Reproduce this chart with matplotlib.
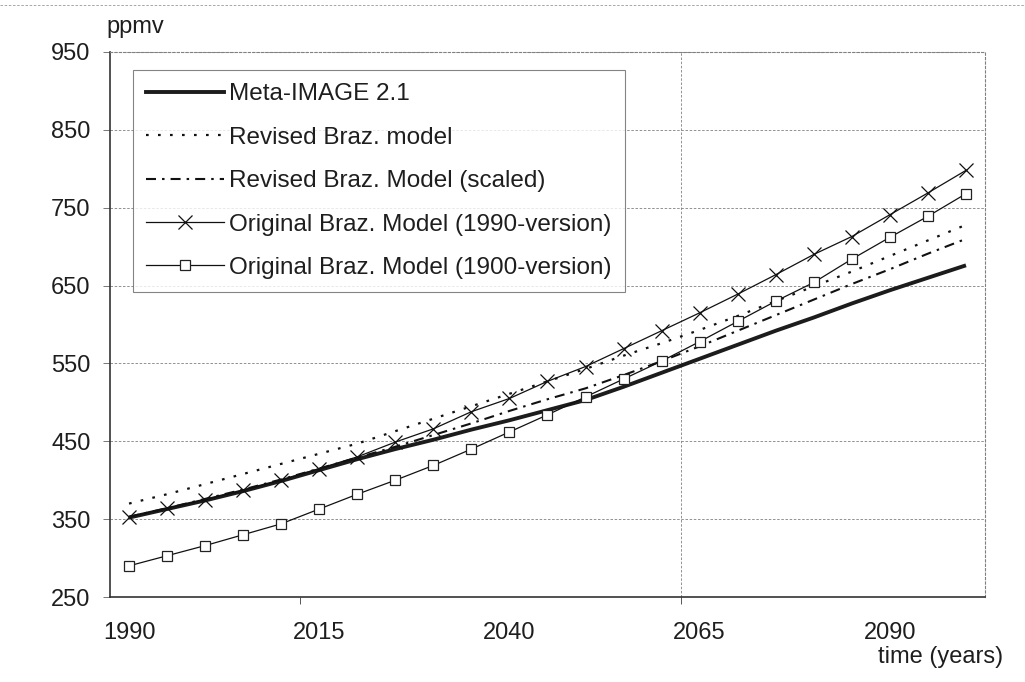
import matplotlib
matplotlib.use("Agg")
import matplotlib.pyplot as plt
from matplotlib.lines import Line2D

# ---- data ----
years = [1990, 1995, 2000, 2005, 2010, 2015, 2020, 2025, 2030, 2035, 2040, 2045,
         2050, 2055, 2060, 2065, 2070, 2075, 2080, 2085, 2090, 2095, 2100]
meta_image = [352, 363, 374, 386, 399, 413, 427, 440, 452, 465, 477, 490,
              503, 520, 538, 556, 574, 592, 609, 627, 644, 660, 676]
revised_braz = [370, 382, 395, 408, 421, 434, 447, 463, 479, 495, 511, 527,
                543, 560, 576, 593, 611, 630, 649, 668, 688, 708, 728]
revised_scaled = [353, 364, 376, 388, 401, 415, 429, 443, 458, 473, 489, 504,
                  518, 535, 553, 572, 592, 612, 632, 652, 671, 691, 710]
orig_1990 = [353, 364, 375, 387, 400, 415, 430, 449, 466, 488, 505, 527,
             546, 569, 592, 615, 639, 664, 690, 713, 741, 769, 798]
orig_1900 = [290, 303, 316, 330, 344, 363, 382, 400, 419, 440, 462, 484,
             507, 530, 553, 578, 604, 630, 654, 684, 712, 739, 768]

labels = ["Meta-IMAGE 2.1", "Revised Braz. model", "Revised Braz. Model (scaled)",
          "Original Braz. Model (1990-version)", "Original Braz. Model (1900-version)"]
xtick_labels = [1990, 2015, 2040, 2065, 2090]
yticks = [250, 350, 450, 550, 650, 750, 850, 950]

plt.rcParams['font.family'] = ['Liberation Sans', 'DejaVu Sans']
FS = 17
LFS = 17.5
TXT = '#1e1e1e'

W, H = 1025, 682
fig = plt.figure(figsize=(W / 100, H / 100), dpi=100)
L, R, B, T = 110, 985, 597, 52
ax = fig.add_axes([L / W, 1 - B / H, (R - L) / W, (B - T) / H])

ax.set_xlim(1987.5, 2102.5)
ax.set_ylim(250, 950)

# gridlines
for y in yticks[1:]:
    ax.axhline(y, color='#808080', lw=0.6, ls=(0, (3, 2)), zorder=1)
ax.axvline(2062.5, color='#808080', lw=0.6, ls=(0, (3, 2)), zorder=1)

# series
ax.plot(years, meta_image, color='#1c1c1c', lw=2.8, zorder=3,
        solid_capstyle='butt')
ax.plot(years, revised_braz, color='#111111', lw=1.6, ls=(0, (1.2, 4.2)), zorder=3)
ax.plot(years, revised_scaled, color='#111111', lw=1.5,
        ls=(0, (4.8, 2.9, 1.2, 2.9)), zorder=3)
ax.plot(years, orig_1990, color='#111111', lw=0.9, marker='x', ms=9.5,
        mew=0.9, zorder=4)
ax.plot(years, orig_1900, color='#111111', lw=0.9, marker='s', ms=7.5,
        mew=0.9, mfc='white', mec='#222222', zorder=4)

# axes styling
for s in ['top', 'right']:
    ax.spines[s].set_color('#808080')
    ax.spines[s].set_linestyle((0, (2, 2)))
    ax.spines[s].set_linewidth(0.8)
for s in ['left', 'bottom']:
    ax.spines[s].set_color('#333333')
    ax.spines[s].set_linewidth(1.2)

ax.set_yticks(yticks)
ax.set_yticklabels([str(v) for v in yticks])
ax.tick_params(axis='y', length=5, width=0.7, color='#777777', pad=9,
               labelsize=FS, labelcolor=TXT)
ax.set_xticks(xtick_labels)
ax.set_xticklabels([str(v) for v in xtick_labels])
ax.tick_params(axis='x', length=0, pad=18, labelsize=FS, labelcolor=TXT)
ax.set_xticks([2012.5, 2062.5], minor=True)
ax.tick_params(axis='x', which='minor', length=5, width=0.7, color='#555555')

fig.text(106 / W, 1 - 33 / H, "ppmv", fontsize=FS, color=TXT,
         ha='left', va='baseline')
fig.text(1003 / W, 1 - 657 / H, "time (years)", fontsize=FS, color=TXT,
         ha='right', va='center')

# legend
handles = [
    Line2D([], [], color='#1c1c1c', lw=2.8),
    Line2D([], [], color='#111111', lw=1.6, ls=(0, (1.2, 4.2))),
    Line2D([], [], color='#111111', lw=1.5, ls=(0, (4.8, 2.9, 1.2, 2.9))),
    Line2D([], [], color='#111111', lw=0.9, marker='x', ms=9.5, mew=0.9),
    Line2D([], [], color='#111111', lw=0.9, marker='s', ms=7.5, mew=0.9,
           mfc='white', mec='#222222'),
]
leg = ax.legend(handles, labels, loc='upper left',
                bbox_to_anchor=(133 / W, 1 - 70 / H), bbox_transform=fig.transFigure,
                fontsize=LFS, handlelength=3.2, handletextpad=0.2,
                labelspacing=0.88, numpoints=1, frameon=True, fancybox=False,
                borderpad=0.55, borderaxespad=0)
leg.get_frame().set_edgecolor('#666666')
leg.get_frame().set_linewidth(0.8)
for t in leg.get_texts():
    t.set_color(TXT)

# scan border line at top of the page
fig.add_artist(Line2D([0, 1], [1 - 5 / H, 1 - 5 / H], transform=fig.transFigure,
                      color='#999999', lw=0.6, ls=(0, (3, 2))))

fig.savefig("out.png", dpi=100)
